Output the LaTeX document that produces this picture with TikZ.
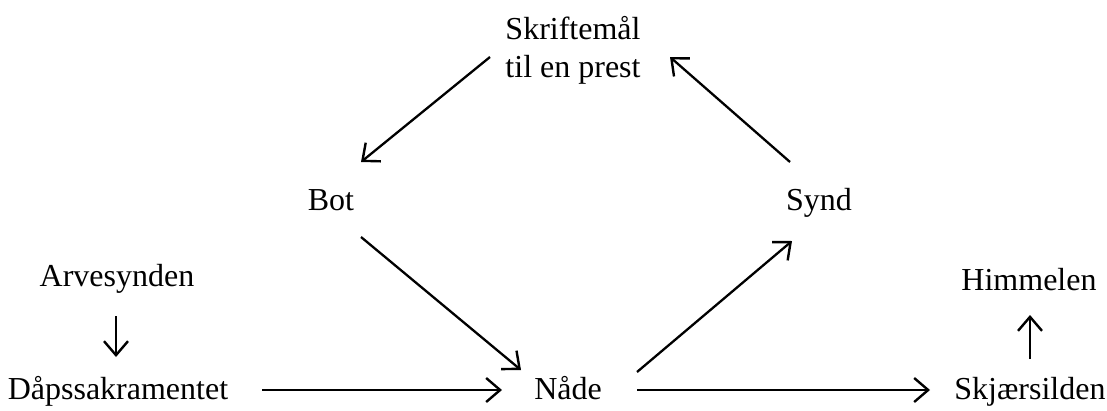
\documentclass[tikz,border=0pt]{standalone}
\usepackage{fontspec}
\setmainfont{Liberation Serif}
\usetikzlibrary{arrows.meta}
\begin{document}
\begin{tikzpicture}[x=1pt,y=-1pt,
  lbl/.style={font=\fontsize{32}{38}\selectfont, inner sep=0pt, align=center},
  one/.style={text height=22pt, text depth=7pt},
  arr/.style={-{Straight Barb[length=14pt,width=24pt,line width=2.4pt]}, line width=2.3pt}]
\useasboundingbox (0,0) rectangle (1107,410);
\node[lbl] (skr) at (573,50) {Skriftemål\\til en prest};
\node[lbl,one] (bot) at (331,203) {Bot};
\node[lbl,one] (synd) at (819,203) {Synd};
\node[lbl,one] (arv) at (117,279) {Arvesynden};
\node[lbl,one] (him) at (1029,283) {Himmelen};
\node[lbl,one] (daps) at (118,392) {Dåpssakramentet};
\node[lbl,one] (nade) at (568,392) {Nåde};
\node[lbl,one] (skj) at (1030,392) {Skjærsilden};
\coordinate (a1) at (490,57); \coordinate (a2) at (361,162);
\coordinate (b1) at (361,237); \coordinate (b2) at (521,370);
\coordinate (c1) at (262,390); \coordinate (c2) at (502,390);
\coordinate (d1) at (116,316); \coordinate (d2) at (116,357);
\coordinate (e1) at (637,372); \coordinate (e2) at (792,241);
\coordinate (f1) at (637,390); \coordinate (f2) at (930,390);
\coordinate (g1) at (1030,359); \coordinate (g2) at (1030,315);
\coordinate (h1) at (790,162); \coordinate (h2) at (670,57);
\draw[arr] (a1) -- (a2);
\draw[arr] (b1) -- (b2);
\draw[arr] (c1) -- (c2);
\draw[arr] (d1) -- (d2);
\draw[arr] (e1) -- (e2);
\draw[arr] (f1) -- (f2);
\draw[arr] (g1) -- (g2);
\draw[arr] (h1) -- (h2);
\end{tikzpicture}
\end{document}
